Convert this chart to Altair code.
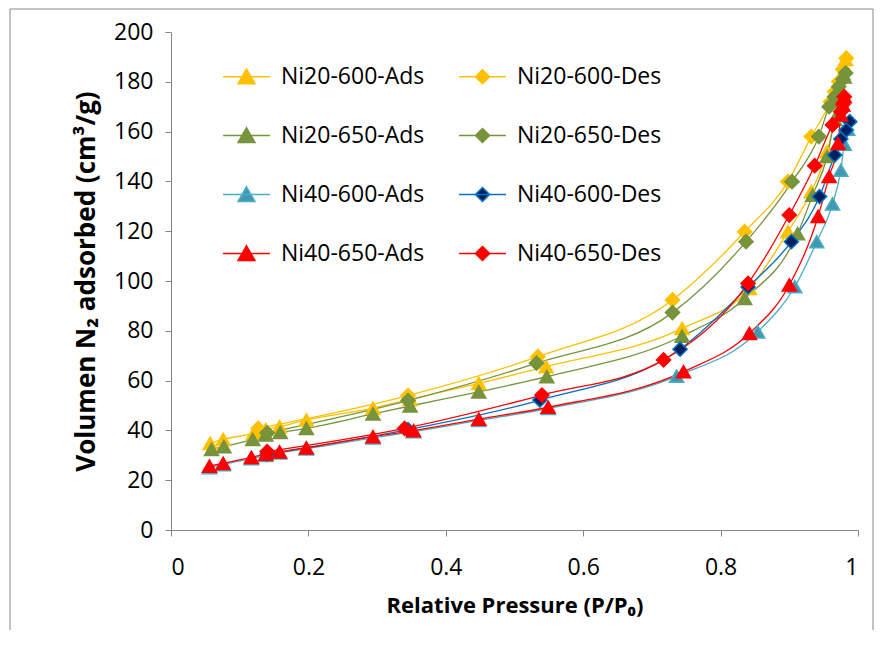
import altair as alt
import pandas as pd

series_names = ["Ni20-600-Ads", "Ni20-650-Ads", "Ni40-600-Ads", "Ni40-650-Ads",
                "Ni20-600-Des", "Ni20-650-Des", "Ni40-600-Des", "Ni40-650-Des"]

ni20_600_ads_x = [0.057, 0.076, 0.12, 0.138, 0.158, 0.197, 0.294, 0.348, 0.448, 0.546, 0.744, 0.842, 0.898, 0.932, 0.955, 0.966, 0.972, 0.977, 0.982]
ni20_600_ads_y = [34.8, 36.4, 38.8, 40.4, 41.5, 44.2, 48.9, 52.5, 58.9, 65.6, 81.0, 97.0, 119.8, 135.9, 152.0, 165.0, 175.0, 183.0, 189.0]
ni20_600_des_x = [0.983, 0.978, 0.972, 0.966, 0.960, 0.932, 0.898, 0.835, 0.730, 0.534, 0.345, 0.127]
ni20_600_des_y = [189.5, 185.0, 180.0, 176.0, 172.0, 158.0, 139.9, 119.8, 92.4, 69.6, 54.0, 40.8]

ni20_650_ads_x = [0.059, 0.077, 0.119, 0.138, 0.159, 0.197, 0.294, 0.348, 0.448, 0.547, 0.744, 0.835, 0.912, 0.934, 0.955, 0.966, 0.974, 0.980]
ni20_650_ads_y = [32.4, 33.5, 36.4, 38.2, 39.2, 40.8, 46.6, 49.8, 55.5, 61.6, 77.9, 93.0, 119.0, 134.5, 150.0, 165.0, 176.0, 182.0]
ni20_650_des_x = [0.982, 0.978, 0.972, 0.966, 0.958, 0.943, 0.904, 0.837, 0.730, 0.532, 0.345, 0.140]
ni20_650_des_y = [183.5, 181.0, 178.0, 174.0, 170.0, 158.0, 139.9, 115.8, 87.3, 67.0, 52.0, 39.0]

ni40_600_ads_x = [0.056, 0.076, 0.117, 0.138, 0.158, 0.197, 0.294, 0.353, 0.448, 0.549, 0.736, 0.854, 0.908, 0.940, 0.963, 0.975, 0.980, 0.985]
ni40_600_ads_y = [25.0, 26.3, 28.7, 30.0, 31.0, 32.6, 37.0, 39.5, 44.0, 48.8, 61.8, 79.6, 97.7, 115.8, 131.0, 144.5, 155.0, 161.0]
ni40_600_des_x = [0.988, 0.983, 0.975, 0.966, 0.944, 0.903, 0.840, 0.741, 0.537, 0.345, 0.140]
ni40_600_des_y = [164.0, 160.6, 157.0, 150.6, 133.9, 115.8, 97.6, 72.6, 52.2, 40.3, 30.5]

ni40_650_ads_x = [0.056, 0.076, 0.117, 0.138, 0.158, 0.197, 0.294, 0.353, 0.448, 0.549, 0.746, 0.842, 0.900, 0.942, 0.958, 0.971, 0.975, 0.978, 0.980]
ni40_650_ads_y = [25.7, 26.8, 29.2, 30.5, 31.4, 33.0, 37.5, 39.9, 44.5, 49.3, 63.6, 79.0, 98.4, 126.0, 142.0, 155.3, 166.7, 170.7, 174.0]
ni40_650_des_x = [0.980, 0.978, 0.975, 0.963, 0.937, 0.900, 0.840, 0.717, 0.540, 0.340, 0.140]
ni40_650_des_y = [174.0, 171.0, 168.0, 162.7, 146.3, 126.5, 99.0, 68.3, 54.2, 40.8, 31.5]

# colours in the order of series_names
line_colors = ["#FFC000", "#77933C", "#4BACC6", "#FF0000", "#FFC000", "#77933C", "#0070C0", "#FF0000"]
fill_colors = ["#FFC000", "#77933C", "#4198AF", "#FF0000", "#FFC000", "#77933C", "#002060", "#FF0000"]

tri_path = "M-1,0L1,0M0,-0.33L0.36,0.3L-0.36,0.3Z"
dia_path = "M-1,0L1,0M0,-0.3L0.3,0L0,0.3L-0.3,0Z"
legend_paths = [tri_path] * 4 + [dia_path] * 4

draw_order = ["Ni20-600-Ads", "Ni20-600-Des", "Ni20-650-Ads", "Ni20-650-Des",
              "Ni40-600-Ads", "Ni40-600-Des", "Ni40-650-Ads", "Ni40-650-Des"]
all_x = [ni20_600_ads_x, ni20_600_des_x, ni20_650_ads_x, ni20_650_des_x,
         ni40_600_ads_x, ni40_600_des_x, ni40_650_ads_x, ni40_650_des_x]
all_y = [ni20_600_ads_y, ni20_600_des_y, ni20_650_ads_y, ni20_650_des_y,
         ni40_600_ads_y, ni40_600_des_y, ni40_650_ads_y, ni40_650_des_y]

rows = []
for name, xs, ys in zip(draw_order, all_x, all_y):
    for x, y in zip(xs, ys):
        rows.append({"series": name, "p": x, "v": y,
                     "marker": "triangle-up" if name.endswith("Ads") else "diamond"})
df = pd.DataFrame(rows)

FONT = "Open Sans"
fill_scale = alt.Scale(domain=series_names, range=fill_colors)
stroke_scale = alt.Scale(domain=series_names, range=line_colors)
shape_scale = alt.Scale(domain=series_names, range=legend_paths)
leg = alt.Legend(title=None)

xenc = alt.X("p:Q", scale=alt.Scale(domain=[0, 1]),
             axis=alt.Axis(values=[0, 0.2, 0.4, 0.6, 0.8, 1], format="~g",
                           title="Relative Pressure (P/P₀)"))
yenc = alt.Y("v:Q", scale=alt.Scale(domain=[0, 200]),
             axis=alt.Axis(values=list(range(0, 201, 20)),
                           title="Volumen N₂ adsorbed (cm³/g)"))

base = alt.Chart(df)

legend_layer = base.transform_filter("false").mark_point(filled=True, opacity=1).encode(
    x=xenc, y=yenc,
    shape=alt.Shape("series:N", scale=shape_scale, legend=leg),
    fill=alt.Fill("series:N", scale=fill_scale, legend=leg),
    stroke=alt.Stroke("series:N", scale=stroke_scale, legend=leg),
)

lines = base.mark_line(interpolate="monotone", strokeWidth=1.3).encode(
    x=xenc, y=yenc,
    stroke=alt.Stroke("series:N", scale=stroke_scale, legend=leg),
    detail="series:N",
    order=alt.Order("p:Q"),
)

points = base.mark_point(filled=True, size=200, opacity=1, strokeWidth=1.5).encode(
    x=xenc, y=yenc,
    shape=alt.Shape("marker:N", scale=None),
    fill=alt.Fill("series:N", scale=fill_scale, legend=leg),
    stroke=alt.Stroke("series:N", scale=stroke_scale, legend=leg),
)

frame = alt.Chart(pd.DataFrame({"a": [0]})).mark_rect(
    fill=None, stroke="#868686", strokeWidth=1).encode(
    x=alt.value(-161), x2=alt.value(702), y=alt.value(-23), y2=alt.value(640))

chart = alt.layer(legend_layer, frame, lines, points).properties(
    width=687, height=498,
    autosize=alt.AutoSizeParams(type="none"),
    padding={"left": 163, "top": 24, "right": 16, "bottom": 100},
).configure_view(stroke=None).configure_axis(
    grid=False, domainColor="#868686", tickColor="#868686", tickSize=6,
    labelFont=FONT, labelFontSize=23, labelColor="#000000",
    titleFont=FONT, titleFontWeight="bold", titleColor="#000000",
).configure_axisX(labelPadding=20, titlePadding=16, titleFontSize=22
).configure_axisY(labelPadding=12, titlePadding=14, titleFontSize=26
).configure_legend(
    orient="none", legendX=51, legendY=20, columns=2,
    labelFont=FONT, labelFontSize=23, labelColor="#000000",
    symbolSize=2200, symbolStrokeWidth=1.5, labelOffset=10,
    rowPadding=22, columnPadding=31,
)

chart.save("out.html", embed_options={"renderer": "svg", "actions": False})
